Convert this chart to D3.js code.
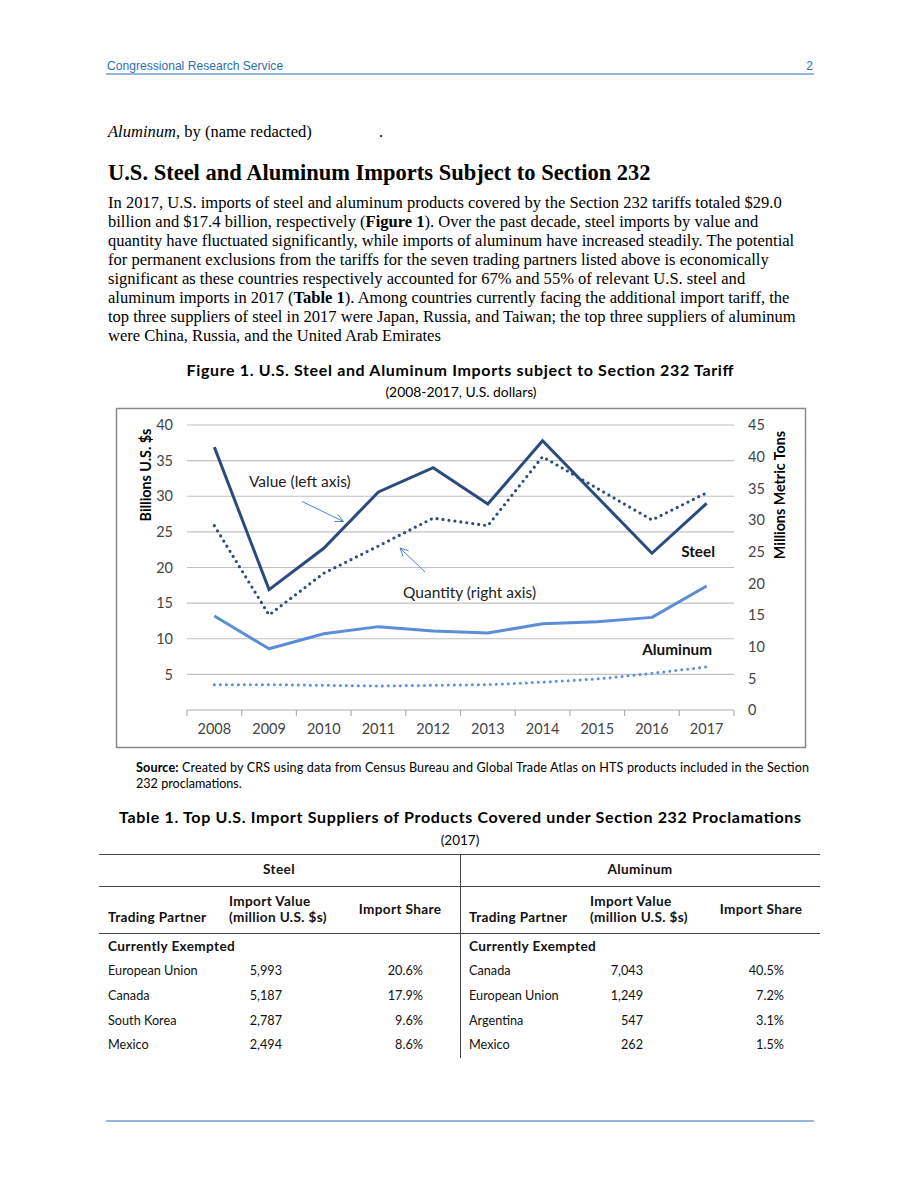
<!DOCTYPE html>
<html>
<head>
<meta charset="utf-8">
<script src="https://cdn.jsdelivr.net/npm/d3@7"></script>
<style>
  html, body { margin: 0; padding: 0; background: #fff; }
  svg { display: block; }
</style>
</head>
<body>
<svg id="page" width="920" height="1191"></svg>
<script>
// ---------------- DATA ----------------
const years = ["2008","2009","2010","2011","2012","2013","2014","2015","2016","2017"];
const steelValue = [36.9, 16.9, 22.7, 30.6, 34.0, 28.9, 37.8, 29.9, 22.0, 29.0];   // billions $ (left axis)
const steelQuantity = [29.1, 15.0, 21.6, 25.9, 30.3, 29.1, 40.0, 35.0, 30.0, 34.3]; // million metric tons (right axis)
const aluValue = [13.2, 8.6, 10.7, 11.7, 11.1, 10.8, 12.1, 12.4, 13.0, 17.4];       // billions $ (left axis)
const aluQuantity = [4.0, 4.0, 3.9, 3.8, 3.9, 4.0, 4.4, 4.9, 5.8, 6.8];              // million metric tons (right axis)
const leftTicks = [5, 10, 15, 20, 25, 30, 35, 40];
const rightTicks = [0, 5, 10, 15, 20, 25, 30, 35, 40, 45];

const steelPartners = ["European Union", "Canada", "South Korea", "Mexico"];
const steelImportValues = ["5,993", "5,187", "2,787", "2,494"];
const steelShares = ["20.6%", "17.9%", "9.6%", "8.6%"];
const aluPartners = ["Canada", "European Union", "Argentina", "Mexico"];
const aluImportValues = ["7,043", "1,249", "547", "262"];
const aluShares = ["40.5%", "7.2%", "3.1%", "1.5%"];

const bodyLines = [
  [["In 2017, U.S. imports of steel and aluminum products covered by the Section 232 tariffs totaled $29.0", false]],
  [["billion and $17.4 billion, respectively (", false], ["Figure 1", true], ["). Over the past decade, steel imports by value and", false]],
  [["quantity have fluctuated significantly, while imports of aluminum have increased steadily. The potential", false]],
  [["for permanent exclusions from the tariffs for the seven trading partners listed above is economically", false]],
  [["significant as these countries respectively accounted for 67% and 55% of relevant U.S. steel and", false]],
  [["aluminum imports in 2017 (", false], ["Table 1", true], ["). Among countries currently facing the additional import tariff, the", false]],
  [["top three suppliers of steel in 2017 were Japan, Russia, and Taiwan; the top three suppliers of aluminum", false]],
  [["were China, Russia, and the United Arab Emirates", false]]
];

// ---------------- PAGE ----------------
const svg = d3.select("#page");
const BLUE = "#2F6DB5";
const SERIF = "'Liberation Serif', 'Times New Roman', serif";
const SANS = "Lato, 'Open Sans', sans-serif";
const ARIAL = "'Liberation Sans', Arial, sans-serif";
const BOLDSP = 0.35; // letter spacing for bold sans (wide Gill Sans look)

// header
svg.append("text").attr("x", 107).attr("y", 70).attr("font-family", ARIAL).attr("font-size", 12.1)
  .attr("fill", BLUE).text("Congressional Research Service");
svg.append("text").attr("x", 813).attr("y", 70).attr("text-anchor", "end").attr("font-family", ARIAL)
  .attr("font-size", 12.1).attr("fill", BLUE).text("2");
svg.append("line").attr("x1", 106).attr("x2", 814).attr("y1", 74).attr("y2", 74)
  .attr("stroke", BLUE).attr("stroke-width", 1.2);

// byline
const by = svg.append("text").attr("x", 108).attr("y", 137).attr("font-family", SERIF).attr("font-size", 16.55);
by.append("tspan").attr("font-style", "italic").text("Aluminum");
by.append("tspan").text(", by (name redacted)");
svg.append("text").attr("x", 379).attr("y", 137).attr("font-family", SERIF).attr("font-size", 16.55).text(".");

// heading
svg.append("text").attr("x", 108).attr("y", 180).attr("font-family", SERIF).attr("font-size", 22.5)
  .attr("font-weight", "bold").text("U.S. Steel and Aluminum Imports Subject to Section 232");

// body paragraph
bodyLines.forEach((segs, i) => {
  const t = svg.append("text").attr("x", 108).attr("y", 208 + i * 19)
    .attr("font-family", SERIF).attr("font-size", 16.55).attr("fill", "#000");
  segs.forEach(([s, b]) => {
    t.append("tspan").attr("font-weight", b ? "bold" : "normal").text(s);
  });
});

// figure title
svg.append("text").attr("x", 460).attr("y", 376).attr("text-anchor", "middle").attr("font-family", SANS)
  .attr("font-size", 16).attr("font-weight", "bold").attr("textLength", 547).attr("lengthAdjust", "spacing")
  .text("Figure 1. U.S. Steel and Aluminum Imports subject to Section 232 Tariff");
svg.append("text").attr("x", 461).attr("y", 397).attr("text-anchor", "middle").attr("font-family", SANS)
  .attr("font-size", 13.9).text("(2008-2017, U.S. dollars)");

// ---------------- CHART ----------------
svg.append("rect").attr("x", 116.5).attr("y", 408.5).attr("width", 689).attr("height", 339)
  .attr("fill", "#fff").attr("stroke", "#8a8a8a").attr("stroke-width", 1.5);

const x = d3.scaleBand().domain(years).range([187, 734]);
const xc = d => x(d) + x.bandwidth() / 2;
const yL = d3.scaleLinear().domain([0, 40]).range([710, 425]);
const yR = d3.scaleLinear().domain([0, 45]).range([710, 425]);

const g = svg.append("g");
// gridlines
g.selectAll("line.grid").data(leftTicks).enter().append("line")
  .attr("x1", 187).attr("x2", 734).attr("y1", d => yL(d)).attr("y2", d => yL(d))
  .attr("stroke", "#c0c0c0").attr("stroke-width", 1.2);
// x axis
const xAxis = g.append("g").attr("transform", "translate(0,710)");
xAxis.append("line").attr("x1", 187).attr("x2", 734).attr("stroke", "#b0b0b0").attr("stroke-width", 1.2);
const bounds = years.map(d => x(d)).concat([734]);
xAxis.selectAll("line.tk").data(bounds).enter().append("line")
  .attr("x1", d => d).attr("x2", d => d).attr("y1", 0).attr("y2", 6)
  .attr("stroke", "#b0b0b0").attr("stroke-width", 1.2);
xAxis.selectAll("text").data(years).enter().append("text")
  .attr("x", d => xc(d)).attr("y", 24).attr("text-anchor", "middle")
  .attr("font-family", SANS).attr("font-size", 14.5).attr("fill", "#444").text(d => d);

// left axis labels
g.selectAll("text.l").data(leftTicks).enter().append("text")
  .attr("x", 173).attr("y", d => yL(d)).attr("dy", "0.36em").attr("text-anchor", "end")
  .attr("font-family", SANS).attr("font-size", 14.5).attr("fill", "#444").text(d => d);
// right axis labels
g.selectAll("text.r").data(rightTicks).enter().append("text")
  .attr("x", 748).attr("y", d => yR(d)).attr("dy", "0.36em").attr("text-anchor", "start")
  .attr("font-family", SANS).attr("font-size", 14.5).attr("fill", "#444").text(d => d);

// axis titles
svg.append("text").attr("transform", "translate(145,475) rotate(-90)").attr("text-anchor", "middle")
  .attr("dominant-baseline", "central").attr("font-family", SANS).attr("font-size", 14.3)
  .attr("font-weight", "bold").text("Billions U.S. $s");
svg.append("text").attr("transform", "translate(779,495) rotate(-90)").attr("text-anchor", "middle")
  .attr("dominant-baseline", "central").attr("font-family", SANS).attr("font-size", 14.3)
  .attr("font-weight", "bold").text("Millions Metric Tons");

// series
const STEEL = "#2A4B7C";
const ALU = "#5B8ED6";
const lineL = d3.line().x((d, i) => xc(years[i])).y(d => yL(d));
const lineR = d3.line().x((d, i) => xc(years[i])).y(d => yR(d));

g.append("path").datum(aluQuantity).attr("d", lineR).attr("fill", "none").attr("stroke", ALU)
  .attr("stroke-width", 3).attr("stroke-linecap", "round").attr("stroke-dasharray", "0,6");
g.append("path").datum(aluValue).attr("d", lineL).attr("fill", "none").attr("stroke", ALU)
  .attr("stroke-width", 3).attr("stroke-linejoin", "round");
g.append("path").datum(steelQuantity).attr("d", lineR).attr("fill", "none").attr("stroke", STEEL)
  .attr("stroke-width", 3.2).attr("stroke-linecap", "round").attr("stroke-dasharray", "0,6");
g.append("path").datum(steelValue).attr("d", lineL).attr("fill", "none").attr("stroke", STEEL)
  .attr("stroke-width", 3).attr("stroke-linejoin", "miter");

// annotations
const ANN = "#4F81BD";
function arrow(x1, y1, x2, y2) {
  g.append("line").attr("x1", x1).attr("y1", y1).attr("x2", x2).attr("y2", y2)
    .attr("stroke", ANN).attr("stroke-width", 1);
  const a = Math.atan2(y2 - y1, x2 - x1), L = 9, w = 0.45;
  const p = [[x2 - L * Math.cos(a - w), y2 - L * Math.sin(a - w)], [x2, y2], [x2 - L * Math.cos(a + w), y2 - L * Math.sin(a + w)]];
  g.append("path").attr("d", d3.line()(p)).attr("fill", "none").attr("stroke", ANN).attr("stroke-width", 1);
}
arrow(302, 501.5, 343.5, 521.5);
arrow(425, 572, 400, 548);

g.append("text").attr("x", 249).attr("y", 487).attr("font-family", SANS).attr("font-size", 15.5)
  .attr("fill", "#222").text("Value (left axis)");
g.append("text").attr("x", 403).attr("y", 598).attr("font-family", SANS).attr("font-size", 15.5)
  .attr("fill", "#222").text("Quantity (right axis)");
g.append("text").attr("x", 715).attr("y", 557).attr("text-anchor", "end").attr("font-family", SANS)
  .attr("font-size", 15.3).attr("font-weight", "bold").attr("fill", "#111").text("Steel");
g.append("text").attr("x", 712).attr("y", 655).attr("text-anchor", "end").attr("font-family", SANS)
  .attr("font-size", 15.3).attr("font-weight", "bold").attr("fill", "#111").text("Aluminum");

// source
const src1 = svg.append("text").attr("x", 136).attr("y", 772).attr("font-family", SANS).attr("font-size", 12.6)
  .attr("textLength", 673).attr("lengthAdjust", "spacing");
src1.append("tspan").attr("font-weight", "bold").text("Source:");
src1.append("tspan").text(" Created by CRS using data from Census Bureau and Global Trade Atlas on HTS products included in the Section");
svg.append("text").attr("x", 136).attr("y", 788).attr("font-family", SANS).attr("font-size", 12.6)
  .text("232 proclamations.");

// ---------------- TABLE ----------------
svg.append("text").attr("x", 460).attr("y", 823).attr("text-anchor", "middle").attr("font-family", SANS)
  .attr("font-size", 16).attr("font-weight", "bold").attr("textLength", 682).attr("lengthAdjust", "spacing")
  .text("Table 1. Top U.S. Import Suppliers of Products Covered under Section 232 Proclamations");
svg.append("text").attr("x", 460).attr("y", 845).attr("text-anchor", "middle").attr("font-family", SANS)
  .attr("font-size", 13.5).text("(2017)");

const T = svg.append("g").attr("font-family", SANS).attr("font-size", 12.7).attr("fill", "#111");
[854.5, 886.5, 933.5].forEach(yy => {
  T.append("line").attr("x1", 99).attr("x2", 820).attr("y1", yy).attr("y2", yy)
    .attr("stroke", "#444").attr("stroke-width", 1);
});
T.append("line").attr("x1", 460.5).attr("x2", 460.5).attr("y1", 854.5).attr("y2", 1058)
  .attr("stroke", "#444").attr("stroke-width", 1);

function boldText(xx, yy, s, anchor) {
  return T.append("text").attr("x", xx).attr("y", yy).attr("text-anchor", anchor || "start")
    .attr("font-weight", "bold").attr("font-size", 13.6).attr("letter-spacing", BOLDSP).text(s);
}
function half(ox, title, partners, values, shares) {
  boldText(ox + 171, 874, title, "middle");
  boldText(ox, 922, "Trading Partner");
  boldText(ox + 121, 906, "Import Value");
  boldText(ox + 121, 922, "(million U.S. $s)");
  boldText(ox + 292, 914, "Import Share", "middle");
  boldText(ox, 951, "Currently Exempted");
  partners.forEach((p, i) => {
    const yy = 975 + i * 24.8;
    T.append("text").attr("x", ox).attr("y", yy).text(p);
    T.append("text").attr("x", ox + 174).attr("y", yy).attr("text-anchor", "end").text(values[i]);
    T.append("text").attr("x", ox + 315).attr("y", yy).attr("text-anchor", "end").text(shares[i]);
  });
}
half(108, "Steel", steelPartners, steelImportValues, steelShares);
half(469, "Aluminum", aluPartners, aluImportValues, aluShares);

// footer line
svg.append("line").attr("x1", 106).attr("x2", 814).attr("y1", 1121).attr("y2", 1121)
  .attr("stroke", BLUE).attr("stroke-width", 1.2);
</script>
</body>
</html>
